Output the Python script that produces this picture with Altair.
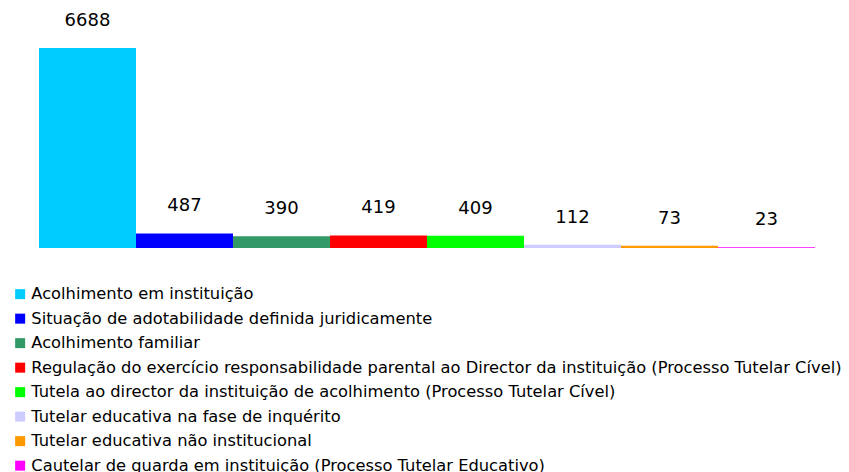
import altair as alt
import pandas as pd

categories = [
    "Acolhimento em instituição",
    "Situação de adotabilidade definida juridicamente",
    "Acolhimento familiar",
    "Regulação do exercício responsabilidade parental ao Director da instituição (Processo Tutelar Cível)",
    "Tutela ao director da instituição de acolhimento (Processo Tutelar Cível)",
    "Tutelar educativa na fase de inquérito",
    "Tutelar educativa não institucional",
    "Cautelar de guarda em instituição (Processo Tutelar Educativo)",
]
values = [6688, 487, 390, 419, 409, 112, 73, 23]
colors = ["#00CCFF", "#0000FF", "#339966", "#FF0000", "#00FF00", "#CCCCFF", "#FF9900", "#FF00FF"]

df = pd.DataFrame({"categoria": categories, "valor": values})

x = alt.X("categoria:N", sort=categories, axis=None,
          scale=alt.Scale(paddingInner=0, paddingOuter=0))
y = alt.Y("valor:Q", axis=None, scale=alt.Scale(domain=[0, max(values)], nice=False, zero=True))

bars = alt.Chart(df).mark_bar().encode(
    x=x,
    y=y,
    color=alt.Color(
        "categoria:N",
        sort=categories,
        scale=alt.Scale(domain=categories, range=colors),
        legend=alt.Legend(
            title=None,
            orient="none",
            legendX=-27,
            legendY=238,
            symbolType="square",
            symbolSize=100,
            symbolStrokeWidth=0,
            labelFont="DejaVu Sans",
            labelFontSize=16.3,
            labelColor="#000000",
            labelLimit=900,
            rowPadding=7.5,
            symbolOffset=0,
            labelOffset=3,
            padding=0,
        ),
    ),
)

labels = alt.Chart(df).mark_text(
    dy=-27, baseline="middle", align="center", font="DejaVu Sans", fontSize=18, color="#000000"
).encode(x=x, y=y, text="valor:Q")

chart = (bars + labels).properties(
    width=776,
    height=200,
    padding={"left": 31, "top": 40, "right": 26, "bottom": 230},
    autosize=alt.AutoSizeParams(type="none"),
).configure_view(stroke=None)

chart.save("out.html", embed_options={"renderer": "svg", "actions": False})
